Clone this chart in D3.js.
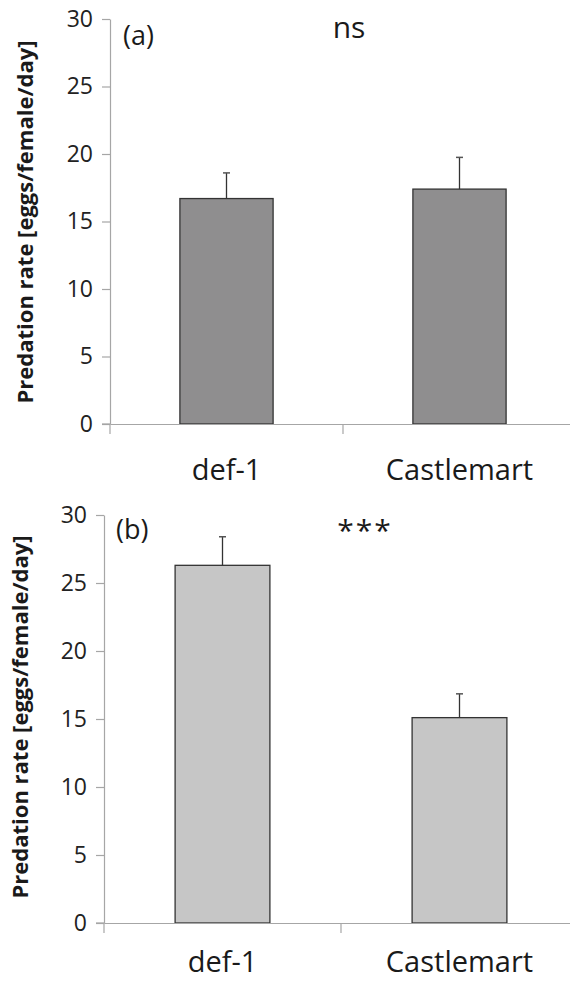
<!DOCTYPE html>
<html><head><meta charset="utf-8">
<script src="https://cdn.jsdelivr.net/npm/d3@7"></script>
<style>body{margin:0;background:#fff}svg{display:block}</style>
</head><body>
<script>
const categories = ["def-1", "Castlemart"];
const valuesA = [16.7, 17.4];
const errorsA = [1.9, 2.35];
const valuesB = [26.3, 15.1];
const errorsB = [2.1, 1.75];
const yTicks = [0, 5, 10, 15, 20, 25, 30];
const panelLabels = ["(a)", "(b)"];
const sigLabels = ["ns", "***"];
const yTitle = "Predation rate [eggs/female/day]";

const font = "'Open Sans', sans-serif";
const svg = d3.select("body").append("svg").attr("width", 570).attr("height", 981);

const panels = [
  {vals: valuesA, errs: errorsA, fill: "#8f8e8f", x0: 110, x1: 576, yTop: 19, yBot: 424, label: panelLabels[0], sig: sigLabels[0], labX: 123, labY: 45, sigX: 349, sigY: 38, titleX: 25, titleY: 222, catY: 480},
  {vals: valuesB, errs: errorsB, fill: "#c6c6c6", x0: 104, x1: 578, yTop: 515, yBot: 923, label: panelLabels[1], sig: sigLabels[1], labX: 116, labY: 539, sigX: 365, sigY: 541, titleX: 20, titleY: 717, catY: 972}
];

panels.forEach(p => {
  const g = svg.append("g");
  const x = d3.scaleBand().domain(categories).range([p.x0, p.x1]).paddingInner(0).paddingOuter(0);
  const y = d3.scaleLinear().domain([0, 30]).range([p.yBot, p.yTop]);
  const bw = x.bandwidth() * 0.4;

  g.selectAll("rect.bar").data(categories).join("rect")
    .attr("x", d => x(d) + x.bandwidth()/2 - bw/2)
    .attr("y", (d,i) => y(p.vals[i]))
    .attr("width", bw)
    .attr("height", (d,i) => y(0) - y(p.vals[i]))
    .attr("fill", p.fill).attr("stroke", "#333").attr("stroke-width", 1.3);

  g.selectAll("line.err").data(categories).join("line")
    .attr("x1", d => x(d) + x.bandwidth()/2).attr("x2", d => x(d) + x.bandwidth()/2)
    .attr("y1", (d,i) => y(p.vals[i])).attr("y2", (d,i) => y(p.vals[i] + p.errs[i]))
    .attr("stroke", "#333").attr("stroke-width", 1.3);
  g.selectAll("line.cap").data(categories).join("line")
    .attr("x1", d => x(d) + x.bandwidth()/2 - 3.5).attr("x2", d => x(d) + x.bandwidth()/2 + 3.5)
    .attr("y1", (d,i) => y(p.vals[i] + p.errs[i])).attr("y2", (d,i) => y(p.vals[i] + p.errs[i]))
    .attr("stroke", "#555").attr("stroke-width", 1.5);

  const ya = g.append("g").attr("transform", `translate(${p.x0},0)`)
    .call(d3.axisLeft(y).tickValues(yTicks).tickSize(8).tickPadding(9).tickSizeOuter(0));
  ya.select(".domain").attr("stroke", "#a6a6a6").attr("stroke-width", 1.2);
  ya.selectAll(".tick line").attr("stroke", "#a6a6a6").attr("stroke-width", 1.2);
  ya.selectAll(".tick text").attr("font-family", font).attr("font-size", 23).attr("fill", "#222");

  const xa = g.append("g").attr("transform", `translate(0,${p.yBot})`)
    .call(d3.axisBottom(x).tickSize(0).tickSizeOuter(0).tickFormat(() => ""));
  xa.select(".domain").attr("stroke", "#a6a6a6").attr("stroke-width", 1.2);
  xa.selectAll(".tick").remove();
  g.selectAll("line.xtick").data([p.x0, (p.x0 + p.x1)/2]).join("line")
    .attr("x1", d => d).attr("x2", d => d).attr("y1", p.yBot).attr("y2", p.yBot + 10)
    .attr("stroke", "#a6a6a6").attr("stroke-width", 1.2);
  g.append("line").attr("x1", p.x0 - 8).attr("x2", p.x0).attr("y1", p.yBot).attr("y2", p.yBot)
    .attr("stroke", "#a6a6a6").attr("stroke-width", 1.2);

  g.selectAll("text.cat").data(categories).join("text")
    .attr("x", d => x(d) + x.bandwidth()/2).attr("y", p.catY)
    .attr("text-anchor", "middle").attr("font-family", font).attr("font-size", 29).attr("fill", "#1a1a1a")
    .text(d => d);

  g.append("text").attr("x", p.labX).attr("y", p.labY).attr("font-family", font).attr("font-size", 27).attr("fill", "#1a1a1a").text(p.label);
  g.append("text").attr("x", p.sigX).attr("y", p.sigY).attr("text-anchor", "middle").attr("font-family", font).attr("font-size", 30).attr("letter-spacing", p.sig === "***" ? 2 : 0).attr("fill", "#1a1a1a").text(p.sig);

  g.append("text").attr("transform", `translate(${p.titleX},${p.titleY}) rotate(-90)`)
    .attr("text-anchor", "middle").attr("dy", "0.35em")
    .attr("font-family", font).attr("font-weight", "bold").attr("font-size", 22).attr("fill", "#1a1a1a")
    .text(yTitle);
});
</script>
</body></html>
